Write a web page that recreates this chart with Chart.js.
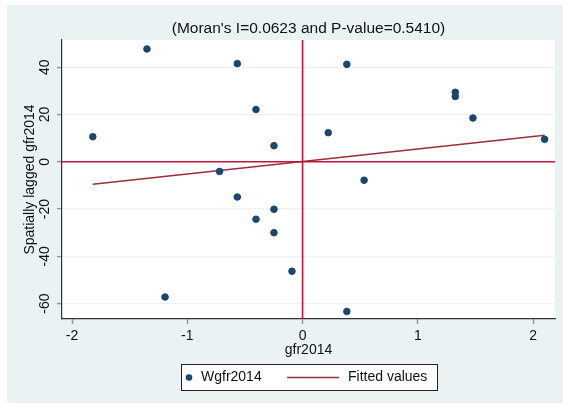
<!DOCTYPE html>
<html>
<head>
<meta charset="utf-8">
<script src="https://cdn.jsdelivr.net/npm/chart.js"></script>
<style>
  body { margin: 0; background: #fff; }
  #wrap { width: 563px; height: 405px; }
</style>
</head>
<body>
<div id="wrap"><canvas id="moran"></canvas></div>
<script>
// gfr2014 (x) vs spatially lagged gfr2014 (y)
var gfrX = [-1.35, -0.566, -0.404, -1.82, -0.248, -0.72, -0.566, 0.384, 1.325, 1.325,
            1.478, 0.223, 2.10, 0.534, -0.248, -0.404, -0.248, -0.092, -1.193, 0.384];
var lagY = [47.7, 41.5, 22.1, 10.6, 6.8, -4.1, -14.9, 41.2, 29.4, 27.6,
            18.5, 12.3, 9.5, -7.8, -20.1, -24.3, -30.0, -46.3, -57.2, -63.3];

// fitted values line (end points)
var fitX = [-1.82, 2.10];
var fitY = [-9.5, 11.2];

// axis ranges and ticks
var xMin = -2.087, xMax = 2.19;
var yMin = -66.5, yMax = 51.5;
var xTicks = [-2, -1, 0, 1, 2];
var yTicks = [-60, -40, -20, 0, 20, 40];

var navy = '#1a476f';
var maroon = '#9b2d3a';
var crimson = '#c8143c';

Chart.defaults.font.family = "'Liberation Sans', Arial, sans-serif";
Chart.defaults.font.size = 14;
Chart.defaults.color = '#111';

var scatterPts = gfrX.map(function (x, i) { return { x: x, y: lagY[i] }; });
var fitPts = fitX.map(function (x, i) { return { x: x, y: fitY[i] }; });

var background = {
  id: 'background',
  beforeDraw: function (chart) {
    var ctx = chart.ctx, a = chart.chartArea;
    ctx.save();
    ctx.fillStyle = '#ffffff';
    ctx.fillRect(0, 0, chart.width, chart.height);
    ctx.fillStyle = '#eaf2f3';
    ctx.fillRect(7, 5, chart.width - 7, chart.height - 7);
    ctx.fillStyle = '#ffffff';
    ctx.fillRect(a.left, a.top, a.right - a.left, a.bottom - a.top);
    ctx.restore();
  }
};

// y tick labels are rotated like the original
var yLabels = {
  id: 'yLabels',
  afterDraw: function (chart) {
    var ctx = chart.ctx, s = chart.scales.y;
    ctx.save();
    ctx.fillStyle = '#111';
    ctx.font = "14px 'Liberation Sans', Arial, sans-serif";
    ctx.textAlign = 'center';
    ctx.textBaseline = 'middle';
    yTicks.forEach(function (v) {
      ctx.save();
      ctx.translate(s.left + 38, s.getPixelForValue(v));
      ctx.rotate(-Math.PI / 2);
      ctx.fillText(String(v), 0, 0);
      ctx.restore();
    });
    ctx.restore();
  }
};

var legendBox = {
  id: 'legendBox',
  afterDraw: function (chart) {
    var ctx = chart.ctx;
    var cy = 377.5;
    ctx.save();
    ctx.fillStyle = '#fff';
    ctx.fillRect(181.5, 364.5, 256, 26);
    ctx.strokeStyle = '#222';
    ctx.lineWidth = 1;
    ctx.strokeRect(181.5, 364.5, 256, 26);
    ctx.fillStyle = navy;
    ctx.beginPath();
    ctx.arc(189, cy, 3.3, 0, Math.PI * 2);
    ctx.fill();
    ctx.strokeStyle = maroon;
    ctx.lineWidth = 1.5;
    ctx.beginPath();
    ctx.moveTo(287, cy);
    ctx.lineTo(339, cy);
    ctx.stroke();
    ctx.fillStyle = '#111';
    ctx.font = "14px 'Liberation Sans', Arial, sans-serif";
    ctx.textBaseline = 'middle';
    ctx.fillText(chart.data.datasets[0].label, 201, cy);
    ctx.fillText(chart.data.datasets[1].label, 348, cy);
    ctx.restore();
  }
};

new Chart(document.getElementById('moran'), {
  type: 'scatter',
  data: {
    datasets: [
      {
        label: 'Wgfr2014',
        data: scatterPts,
        backgroundColor: navy,
        borderColor: navy,
        pointRadius: 3.3,
        pointHoverRadius: 3.3
      },
      {
        type: 'line',
        label: 'Fitted values',
        data: fitPts,
        borderColor: maroon,
        borderWidth: 1.4,
        pointRadius: 0,
        fill: false
      },
      {
        type: 'line',
        label: 'y0',
        data: [{ x: xMin, y: 0 }, { x: xMax, y: 0 }],
        borderColor: crimson,
        borderWidth: 1.6,
        pointRadius: 0
      },
      {
        type: 'line',
        label: 'x0',
        data: [{ x: 0, y: yMin }, { x: 0, y: yMax }],
        borderColor: crimson,
        borderWidth: 1.6,
        pointRadius: 0
      }
    ]
  },
  options: {
    responsive: true,
    maintainAspectRatio: false,
    animation: false,
    events: [],
    layout: { padding: { left: 7, top: 5, right: 8, bottom: 34 } },
    plugins: {
      legend: { display: false },
      tooltip: { enabled: false },
      title: {
        display: true,
        fullSize: false,
        text: "(Moran's I=0.0623 and P-value=0.5410)",
        color: '#111',
        font: { size: 15.5, weight: 'normal', lineHeight: 1.2 },
        padding: { top: 14.7, bottom: 1.7 }
      }
    },
    scales: {
      x: {
        type: 'linear',
        min: xMin,
        max: xMax,
        afterBuildTicks: function (s) { s.ticks = xTicks.map(function (v) { return { value: v }; }); },
        afterFit: function (s) { s.height = 52; },
        grid: { drawOnChartArea: false, tickLength: 5, tickColor: '#999', tickWidth: 1.5 },
        border: { color: '#333', width: 1.2 },
        ticks: { padding: 4, color: '#111', callback: function (v) { return String(v); } },
        title: { display: true, text: 'gfr2014', color: '#111', padding: { top: 0, bottom: 12 } }
      },
      y: {
        type: 'linear',
        min: yMin,
        max: yMax,
        afterBuildTicks: function (s) { s.ticks = yTicks.map(function (v) { return { value: v }; }); },
        afterFit: function (s) { s.width = 55; },
        grid: { color: '#eaf2f3', lineWidth: 1.2, tickLength: 5, tickColor: '#999', tickWidth: 1.5 },
        border: { color: '#333', width: 1.2 },
        ticks: { display: false },
        title: { display: true, text: 'Spatially lagged gfr2014', color: '#111', padding: { top: 14.6, bottom: 0 } }
      }
    }
  },
  plugins: [background, yLabels, legendBox]
});
</script>
</body>
</html>
